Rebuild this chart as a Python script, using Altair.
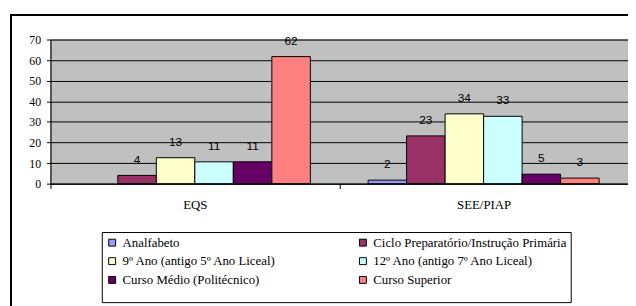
import altair as alt
import pandas as pd

groups = ["EQS", "SEE/PIAP"]
levels = [
    "Analfabeto",
    "Ciclo Preparatório/Instrução Primária",
    "9º Ano (antigo 5º Ano Liceal)",
    "12º Ano (antigo 7º Ano Liceal)",
    "Curso Médio (Politécnico)",
    "Curso Superior",
]
colors = ["#9999FF", "#993366", "#FFFFCC", "#CCFFFF", "#660066", "#FF8080"]
eqs_values = [0, 4.0, 12.6, 10.6, 10.6, 61.7]
see_values = [1.7, 23.2, 33.9, 32.7, 4.6, 2.7]
y_ticks = [0, 10, 20, 30, 40, 50, 60, 70]
# legend is filled column by column: left column first, then right column
legend_order = [levels[0], levels[2], levels[4], levels[1], levels[3], levels[5]]
legend_colors = [colors[levels.index(l)] for l in legend_order]

rows = []
for g, vals in zip(groups, [eqs_values, see_values]):
    for lvl, v in zip(levels, vals):
        rows.append({"group": g, "level": lvl, "value": v})
df = pd.DataFrame(rows)

W, H = 585, 146
SERIF = "Liberation Serif"
SANS = "Liberation Sans"


def x_enc():
    return alt.X(
        "group:N",
        sort=groups,
        title=None,
        scale=alt.Scale(paddingInner=0, paddingOuter=0),
        axis=alt.Axis(
            labelAngle=0,
            tickBand="extent",
            tickSize=5,
            labelPadding=10,
            grid=False,
            labelFont=SERIF,
            labelFontSize=13,
            labelColor="black",
            domainColor="black",
            tickColor="black",
        ),
    )


def xoff_enc():
    return alt.XOffset(
        "level:N", sort=levels, scale=alt.Scale(paddingInner=0, paddingOuter=0.75)
    )


def y_enc():
    return alt.Y(
        "value:Q",
        title=None,
        scale=alt.Scale(domain=[0, 70], nice=False),
        axis=alt.Axis(
            values=y_ticks,
            tickSize=4,
            labelPadding=6,
            grid=True,
            labelFont=SERIF,
            labelFontSize=12,
            labelColor="black",
            domainColor="black",
            tickColor="black",
            gridColor="black",
            gridWidth=1,
            gridOpacity=1,
        ),
    )


bars = alt.Chart(df).transform_filter("datum.value > 0").mark_bar(
    stroke="black", strokeWidth=1
).encode(
    x=x_enc(),
    xOffset=xoff_enc(),
    y=y_enc(),
    color=alt.Color(
        "level:N",
        scale=alt.Scale(domain=legend_order, range=legend_colors),
        legend=alt.Legend(
            title=" ",
            titleOrient="bottom",
            titleFontSize=8,
            titlePadding=3,
            orient="none",
            legendX=52,
            legendY=195,
            columns=2,
            columnPadding=81,
            rowPadding=5,
            padding=4,
            symbolType="square",
            symbolSize=49,
            symbolStrokeColor="black",
            symbolStrokeWidth=1,
            labelFont=SERIF,
            labelFontSize=13,
            labelColor="black",
            labelOffset=4,
            labelLimit=400,
            strokeColor="black",
            fillColor="white",
        ),
    ),
)

labels = alt.Chart(df).transform_filter("datum.value > 0").mark_text(
    font=SANS, fontSize=12, dy=-16, baseline="middle", color="black"
).encode(
    x=x_enc(),
    xOffset=xoff_enc(),
    y=y_enc(),
    text=alt.Text("value:Q", format=".0f"),
)

frame = alt.Chart(df).mark_rect(
    fill=None, stroke="black", strokeWidth=1.5, clip=False
).encode(
    x=alt.value(-40), x2=alt.value(W + 60), y=alt.value(-25), y2=alt.value(H + 300)
)

chart = (
    alt.layer(frame, bars, labels)
    .properties(
        width=W,
        height=H,
        background="white",
        autosize=alt.AutoSizeParams(type="none"),
        padding={"left": 43, "top": 30, "right": 0, "bottom": 122},
    )
    .configure_view(fill="#C0C0C0", stroke="#808080")
)

chart.save("out.html", embed_options={"renderer": "svg", "actions": False})
